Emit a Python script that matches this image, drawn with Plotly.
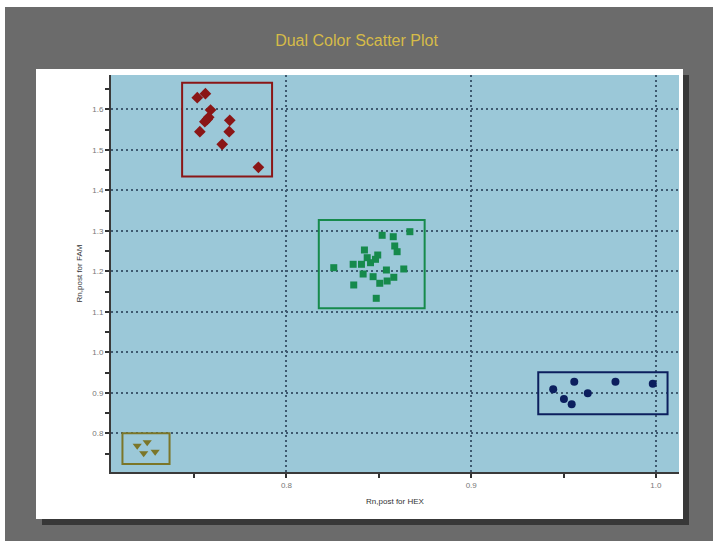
import plotly.graph_objects as go

# ---------------- data ----------------
red_x = [0.7517, 0.7561, 0.7589, 0.7579, 0.7571, 0.7558, 0.7531, 0.7693, 0.7690, 0.7652, 0.7848]
red_y = [1.6286, 1.6385, 1.5983, 1.5802, 1.5753, 1.5694, 1.5447, 1.5728, 1.5447, 1.5136, 1.4568]

green_x = [0.8518, 0.8578, 0.8668, 0.8586, 0.8599, 0.8422, 0.8437, 0.8494, 0.8482, 0.8455, 0.8406,
           0.8361, 0.8256, 0.8415, 0.8469, 0.8541, 0.8635, 0.8581, 0.8545, 0.8505, 0.8364, 0.8486]
green_y = [1.2889, 1.2854, 1.2978, 1.2625, 1.2484, 1.2526, 1.2336, 1.2402, 1.2296, 1.2212, 1.2173,
           1.2173, 1.2089, 1.1933, 1.1867, 1.2032, 1.2057, 1.1852, 1.1760, 1.1704, 1.1662, 1.1333]

navy_x = [0.9444, 0.9502, 0.9544, 0.9558, 0.9631, 0.9781, 0.9983]
navy_y = [0.9086, 0.8847, 0.8716, 0.9274, 0.8988, 0.9274, 0.9225]

olive_x = [0.7192, 0.7246, 0.7227, 0.7289]
olive_y = [0.7694, 0.7778, 0.7506, 0.7546]

# cluster boxes: x0, x1, y0, y1
red_box = [0.7435, 0.7922, 1.4341, 1.6657]
green_box = [0.8175, 0.8748, 1.1086, 1.3267]
navy_box = [0.9363, 1.0063, 0.8469, 0.9506]
olive_box = [0.7112, 0.7367, 0.7242, 0.8000]

x_ticks = [0.8, 0.9, 1.0]
x_labels = ["0.8", "0.9", "1.0"]
y_ticks = [0.8, 0.9, 1.0, 1.1, 1.2, 1.3, 1.4, 1.5, 1.6]
y_labels = ["0.8", "0.9", "1.0", "1.1", "1.2", "1.3", "1.4", "1.5", "1.6"]

title_text = "Dual Color Scatter Plot"
x_title = "Rn,post for HEX"
y_title = "Rn,post for FAM"

# ---------------- styling ----------------
W, H = 713, 541
PL, PR, PT, PB = 111, 679, 75, 472  # plot area in pixels

RED = "#8a1616"
GREEN = "#168a4c"
NAVY = "#0c1f5e"
OLIVE = "#7b7628"


def px_x(p):
    return (p - PL) / (PR - PL)


def px_y(p):
    return (PB - p) / (PB - PT)


fig = go.Figure()

fig.add_trace(go.Scatter(x=red_x, y=red_y, mode="markers",
                         marker=dict(symbol="diamond", size=9, color=RED), showlegend=False))
fig.add_trace(go.Scatter(x=green_x, y=green_y, mode="markers",
                         marker=dict(symbol="square", size=7, color=GREEN), showlegend=False))
fig.add_trace(go.Scatter(x=navy_x, y=navy_y, mode="markers",
                         marker=dict(symbol="circle", size=8, color=NAVY), showlegend=False))
fig.add_trace(go.Scatter(x=olive_x, y=olive_y, mode="markers",
                         marker=dict(symbol="triangle-down", size=8, color=OLIVE), showlegend=False))

shapes = []
# background decoration (paper coordinates, below plot)
shapes.append(dict(type="rect", xref="paper", yref="paper", layer="below",
                   x0=px_x(0), x1=px_x(W), y0=px_y(0), y1=px_y(7),
                   fillcolor="white", line=dict(width=0)))
shapes.append(dict(type="rect", xref="paper", yref="paper", layer="below",
                   x0=px_x(0), x1=px_x(5), y0=px_y(0), y1=px_y(H),
                   fillcolor="white", line=dict(width=0)))
# shadow
shapes.append(dict(type="rect", xref="paper", yref="paper", layer="below",
                   x0=px_x(42), x1=px_x(689), y0=px_y(75), y1=px_y(525),
                   fillcolor="#383838", line=dict(width=0)))
# white panel
shapes.append(dict(type="rect", xref="paper", yref="paper", layer="below",
                   x0=px_x(36), x1=px_x(683), y0=px_y(69), y1=px_y(519),
                   fillcolor="white", line=dict(width=0)))
# plot area background
shapes.append(dict(type="rect", xref="paper", yref="paper", layer="below",
                   x0=0, x1=1, y0=0, y1=1,
                   fillcolor="#9bc8d8", line=dict(width=0)))

for box, col in [(red_box, RED), (green_box, GREEN), (navy_box, NAVY), (olive_box, OLIVE)]:
    shapes.append(dict(type="rect", xref="x", yref="y", layer="above",
                       x0=box[0], x1=box[1], y0=box[2], y1=box[3],
                       line=dict(color=col, width=2), fillcolor="rgba(0,0,0,0)"))

fig.update_layout(
    width=W, height=H,
    margin=dict(l=PL, r=W - PR, t=PT, b=H - PB, pad=0),
    paper_bgcolor="#6b6b6b",
    plot_bgcolor="rgba(0,0,0,0)",
    shapes=shapes,
    font=dict(family="Liberation Sans, Arial", size=8, color="#555555"),
    title=dict(text=title_text, x=0.5, xref="container", xanchor="center",
               y=1 - 40 / H, yref="container", yanchor="middle",
               font=dict(family="Liberation Sans, Arial", size=16, color="#d6bb48")),
)

grid_color = "#3e5a70"
grid_dash = "2px,3px"
fig.update_xaxes(
    range=[0.705, 1.0125], tickvals=x_ticks, ticktext=x_labels,
    showgrid=True, gridcolor=grid_color, griddash=grid_dash, gridwidth=1.5,
    showline=True, linecolor="#3a3a3a", linewidth=2, zeroline=False,
    ticks="outside", ticklen=4, tickcolor="#333333", tickwidth=1.5,
    minor=dict(tickvals=[0.75, 0.85, 0.95], ticks="outside", ticklen=4,
               tickcolor="#333333", tickwidth=1.5, showgrid=False),
    tickfont=dict(size=8, color="#777777"),
    title=dict(text=x_title, font=dict(size=8, color="#333333"), standoff=10),
)
fig.update_yaxes(
    range=[0.7044, 1.6847], tickvals=y_ticks, ticktext=y_labels,
    showgrid=True, gridcolor=grid_color, griddash=grid_dash, gridwidth=1.5,
    showline=True, linecolor="#3a3a3a", linewidth=2, zeroline=False,
    ticks="outside", ticklen=4, tickcolor="#333333", tickwidth=1.5,
    minor=dict(tickvals=[0.75 + 0.1 * i for i in range(10)], ticks="outside", ticklen=4,
               tickcolor="#333333", tickwidth=1.5, showgrid=False),
    tickfont=dict(size=8, color="#777777"),
    title=dict(text=y_title, font=dict(size=8, color="#333333"), standoff=8),
)

fig.write_html("out.html", config={"displayModeBar": False},
               post_script="document.body.style.margin='0';")
